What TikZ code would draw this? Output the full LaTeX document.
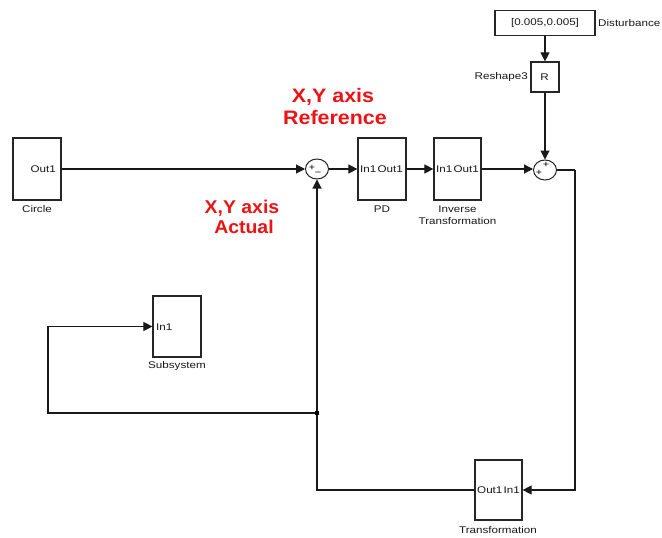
\documentclass[tikz,border=0pt]{standalone}
\usepackage{fontspec}
\setmainfont{Liberation Sans}
\newfontfamily\simfont[FakeStretch=1.2]{Liberation Sans}
\newfontfamily\redtopfont[FakeStretch=1.1]{Liberation Sans Bold}
\newfontfamily\redlowfont[FakeStretch=1.05]{Liberation Sans Bold}
\usetikzlibrary{arrows.meta,shapes.geometric}
\definecolor{redtxt}{RGB}{235,20,20}
\begin{document}
\begin{tikzpicture}[x=1pt,y=-1pt,
  blk/.style={draw=black!85,line width=1.2pt,inner sep=0pt,fill=white},
  sumblk/.style={draw=black!85,line width=1pt,ellipse,inner sep=0pt,minimum width=23pt,minimum height=20pt},
  sig/.style={line width=1.1pt,draw=black!90,-{Triangle[length=9pt,width=9pt]}},
  wire/.style={line width=1.1pt,draw=black!90},
  txt/.style={font=\fontsize{9.7}{11}\selectfont\simfont,text=black!90,inner sep=0pt},
  port/.style={font=\fontsize{9.7}{11}\selectfont\simfont,text=black!90,inner sep=0pt},
  sign/.style={font=\fontsize{9}{9}\selectfont\simfont,text=black,inner sep=0pt},
  redA/.style={font=\fontsize{19.5}{22}\selectfont\redtopfont,text=redtxt,inner sep=0pt,align=center},
  redB/.style={font=\fontsize{18.5}{20}\selectfont\redlowfont,text=redtxt,inner sep=0pt,align=center}]
\useasboundingbox (0,0) rectangle (662,538);
\fill[white] (0,0) rectangle (662,538);
% blocks
\node[blk,minimum width=48pt,minimum height=62pt] (circ) at (37,169) {};
\node[blk,minimum width=48pt,minimum height=61pt] (sub) at (177,326.5) {};
\node[blk,minimum width=48pt,minimum height=62pt] (pd) at (382,169) {};
\node[blk,minimum width=47pt,minimum height=62pt] (inv) at (457.5,169) {};
\node[blk,minimum width=47pt,minimum height=60pt] (trans) at (498.5,490) {};
\node[blk,minimum width=100pt,minimum height=25pt] (dist) at (545,23) {};
\node[blk,minimum width=28pt,minimum height=30pt] (resh) at (545,77) {};
\node[sumblk] (sum1) at (317,169) {};
\node[sumblk] (sum2) at (545,170) {};
% port labels
\node[port,anchor=east] (p1) at (56,169) {Out1};
\node[port,anchor=west] (p2) at (156,327) {In1};
\node[port,anchor=west] (p3) at (360,169) {In1};
\node[port,anchor=east] (p4) at (403,169) {Out1};
\node[port,anchor=west] (p5) at (436,169) {In1};
\node[port,anchor=east] (p6) at (479,169) {Out1};
\node[port,anchor=west] (p7) at (477,490) {Out1};
\node[port,anchor=east] (p8) at (520,490) {In1};
\node[port] (p9) at (545,23) {[0.005,0.005]};
\node[port] (p10) at (544.5,77) {R};
% sum signs
\node[sign] (s1a) at (312,168) {+};
\node[sign] (s1b) at (318,174) {−};
\node[sign] (s2a) at (539,173) {+};
\node[sign] (s2b) at (546,165) {+};
% block labels
\node[txt] (l1) at (37,209) {Circle};
\node[txt] (l2) at (177,366) {Subsystem};
\node[txt] (l3) at (382,209) {PD};
\node[txt] (l4) at (457.5,209) {Inverse};
\node[txt] (l5) at (457.5,221) {Transformation};
\node[txt] (l6) at (498,530) {Transformation};
\node[txt,anchor=west] (l7) at (598,23) {Disturbance};
\node[txt,anchor=east] (l8) at (528,77) {Reshape3};
% red annotations
\node[redA] (r1) at (333,97) {X,Y axis};
\node[redA] (r2) at (335,118) {Reference};
\node[redB] (r3) at (242,208) {X,Y axis};
\node[redB] (r4) at (244,227) {Actual};
% connectors
\coordinate (turn1) at (575,170);
\coordinate (jn) at (317,413);
\coordinate (turn2) at (48,413);
\draw[sig] (circ.east) -- (sum1.west);
\draw[sig] (sum1.east) -- (pd.west);
\draw[sig] (pd.east) -- (inv.west);
\draw[sig] (inv.east) -- (inv.east -| sum2.west);
\draw[sig] (dist.south) -- (resh.north);
\draw[sig] (resh.south) -- (sum2.north);
\draw[wire] (sum2.east) -- (turn1);
\draw[sig] (turn1) |- (trans.east);
\draw[wire] (trans.west) -| (jn);
\draw[sig] (jn) -- (sum1.south);
\draw[sig] (jn) -- (turn2) |- (sub.west);
\node[fill=black,minimum size=3.5pt,inner sep=0pt] (dot) at (jn) {};
\end{tikzpicture}
\end{document}
